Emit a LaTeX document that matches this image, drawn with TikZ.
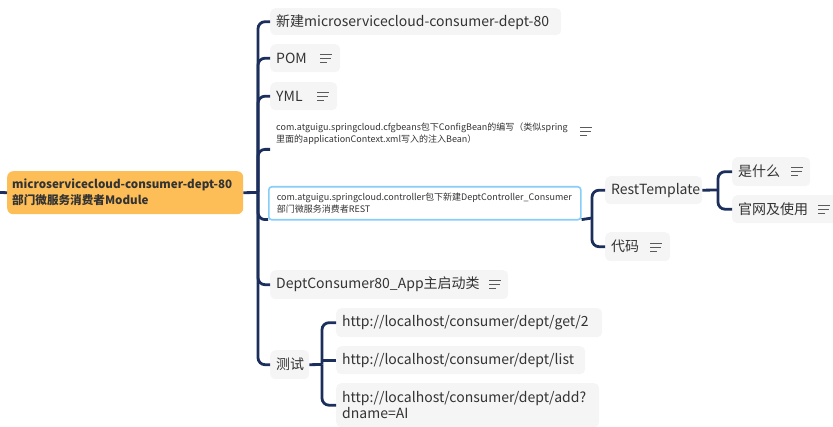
\documentclass[tikz,border=0pt]{standalone}
\usepackage{fontspec}
\setmainfont{Noto Sans CJK SC}
\usetikzlibrary{calc}
\definecolor{linec}{RGB}{27,46,92}
\definecolor{boxfill}{RGB}{245,245,245}
\definecolor{txt}{RGB}{51,51,51}
\definecolor{rootfill}{RGB}{253,190,88}
\definecolor{selblue}{RGB}{135,205,247}
\definecolor{iconc}{RGB}{90,90,90}
\tikzset{
  conn/.style={draw=linec, line width=2.8pt, rounded corners=7pt},
  box/.style={fill=boxfill, rounded corners=5pt, anchor=north west, inner xsep=6pt, inner ysep=0pt,
    align=left, text=txt, font=\fontsize{14}{16}\selectfont},
  small/.style={font=\fontsize{9}{12}\selectfont},
  menu/.pic={\draw[iconc, line width=0.8pt] (-6,-4)--(6,-4) (-6,0)--(5,0) (-6,4)--(1,4);}
}
\begin{document}
\begin{tikzpicture}[x=1pt,y=-1pt]
\useasboundingbox (0,0) rectangle (833,427);
% root
\node[box, fill=rootfill, rounded corners=6pt, inner xsep=5pt, text width=226pt, minimum height=43pt,
  font=\bfseries\fontsize{11.6}{16}\selectfont] (root) at (7,171)
  {microservicecloud-consumer-dept-80\\部门微服务消费者Module};
\coordinate (lstub) at (0,192.5);
\draw[conn] (lstub) -- (root.west);
% children
\node[box, text width=279pt, minimum height=27pt] (n1) at (270,8) {新建microservicecloud-consumer-dept-80};
\node[box, text width=58pt, minimum height=28pt] (pom) at (270,44) {POM};
\node[box, text width=55pt, minimum height=28pt] (yml) at (270,82) {YML};
\node[box, fill=none, small, text width=300pt, minimum height=32pt] (cfg) at (270,117)
  {com.atguigu.springcloud.cfgbeans包下ConfigBean的编写（类似spring\\里面的applicationContext.xml写入的注入Bean）};
\node[box, fill=white, draw=selblue, line width=1.6pt, rounded corners=3pt, small, inner xsep=8pt,
  text width=296pt, minimum height=33pt] (ctrl) at (268,186)
  {com.atguigu.springcloud.controller包下新建DeptController\_Consumer\\部门微服务消费者REST};
\node[box, text width=85pt, minimum height=28pt] (rest) at (605,176) {RestTemplate};
\node[box, text width=53pt, minimum height=29pt] (code) at (605,232) {代码};
\node[box, text width=66pt, minimum height=29pt] (what) at (732,157) {是什么};
\node[box, text width=95pt, minimum height=28pt] (web) at (732,195) {官网及使用};
\node[box, text width=226pt, minimum height=29pt] (app) at (270,270) {DeptConsumer80\_App主启动类};
\node[box, text width=27pt, minimum height=29pt] (test) at (270,350) {测试};
\node[box, text width=254pt, minimum height=29pt] (u1) at (336,308) {http://localhost/consumer/dept/get/2};
\node[box, text width=237pt, minimum height=28pt] (u2) at (336,346) {http://localhost/consumer/dept/list};
\node[box, text width=251pt, minimum height=44pt] (u3) at (336,383) {http://localhost/consumer/dept/add?\\dname=AI};
% icons
\pic at (326,58) {menu};
\pic at (323,96) {menu};
\pic at (586,131) {menu};
\pic at (797,171) {menu};
\pic at (824,209) {menu};
\pic at (656,247) {menu};
\pic at (495,284) {menu};
% trunk
\coordinate (j0) at (258,192.5);
\draw[conn] (root.east) -- (j0);
\draw[conn] (j0) |- (n1.west);
\draw[conn] (j0) |- (pom.west);
\draw[conn] (j0) |- (yml.west);
\draw[conn] (j0) |- (cfg.south west);
\draw[conn] (j0) |- ($(ctrl.south west)+(0,-1)$);
\draw[conn] (j0) |- (app.west);
\draw[conn] (j0) |- (test.west);
% controller branch
\coordinate (j1) at (592,218);
\draw[conn] ($(ctrl.south east)+(0,-1)$) -- (j1);
\draw[conn] (j1) |- (rest.west);
\draw[conn] (j1) |- (code.west);
% resttemplate branch
\coordinate (j2) at (718,190);
\draw[conn] (rest.east) -- (j2);
\draw[conn] (j2) |- (what.west);
\draw[conn] (j2) |- (web.west);
% test branch
\coordinate (j3) at (322,364.5);
\draw[conn] (test.east) -- (j3);
\draw[conn] (j3) |- (u1.west);
\draw[conn] (j3 |- u2.west) -- (u2.west);
\draw[conn] (j3) |- (u3.west);
\end{tikzpicture}
\end{document}
